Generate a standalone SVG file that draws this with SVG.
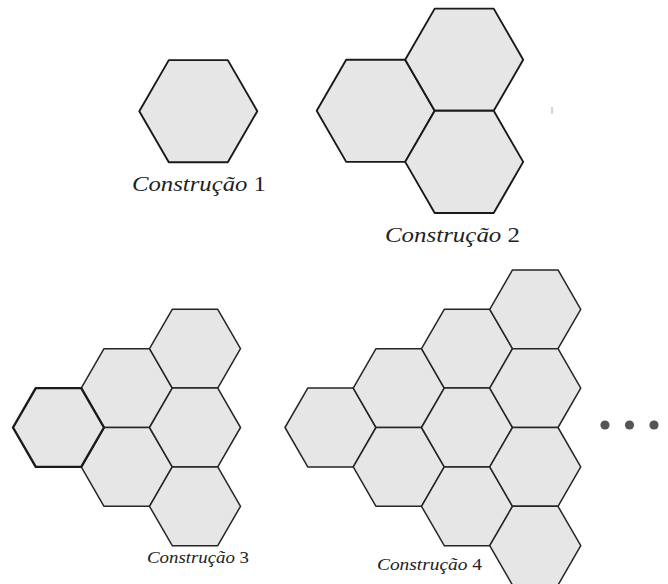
<svg xmlns="http://www.w3.org/2000/svg" xmlns:xlink="http://www.w3.org/1999/xlink" width="668" height="584" viewBox="0 0 668 584">
<style>
.hx{fill:#e6e6e6;stroke:#1a1a1a;stroke-width:1.9;stroke-linejoin:round}
.hs{fill:#e6e6e6;stroke:#262626;stroke-width:1.5;stroke-linejoin:round}
.lbl{font-style:italic;fill:#222}
.num{font-style:normal}
.dot{fill:#555}
</style>
<defs>
<polygon id="big" points="-59,0 -29.5,-51.1 29.5,-51.1 59,0 29.5,51.1 -29.5,51.1"/>
<polygon id="small" points="-45.5,0 -22.75,-39.4 22.75,-39.4 45.5,0 22.75,39.4 -22.75,39.4"/>
</defs>
<rect width="668" height="584" fill="#ffffff"/>
<g id="construcao1">
<use xlink:href="#big" class="hx" x="198.3" y="111.2"/>
<text class="lbl" font-family="'Liberation Serif', 'DejaVu Serif', serif" x="132" y="191" font-size="21" textLength="134" lengthAdjust="spacingAndGlyphs">Construção <tspan class="num">1</tspan></text>
</g>
<g id="construcao2">
<use xlink:href="#big" class="hx" x="375.7" y="110.8"/>
<use xlink:href="#big" class="hx" x="464.2" y="59.7"/>
<use xlink:href="#big" class="hx" x="464.2" y="161.9"/>
<text class="lbl" font-family="'Liberation Serif', 'DejaVu Serif', serif" x="385" y="241.5" font-size="21" textLength="135" lengthAdjust="spacingAndGlyphs">Construção <tspan class="num">2</tspan></text>
<line x1="552" y1="107" x2="552" y2="114" stroke="#aaa" stroke-width="1"/>
</g>
<g id="construcao3">
<use xlink:href="#small" class="hs" x="126.75" y="388.1"/>
<use xlink:href="#small" class="hs" x="126.75" y="466.9"/>
<use xlink:href="#small" class="hs" x="195" y="348.7"/>
<use xlink:href="#small" class="hs" x="195" y="427.5"/>
<use xlink:href="#small" class="hs" x="195" y="506.3"/>
<use xlink:href="#small" class="hs" x="58.5" y="427.5" style="stroke-width:2.4;stroke:#1a1a1a"/>
<text class="lbl" font-family="'Liberation Serif', 'DejaVu Serif', serif" x="147" y="563.3" font-size="16" textLength="102" lengthAdjust="spacingAndGlyphs">Construção <tspan class="num">3</tspan></text>
</g>
<g id="construcao4">
<use xlink:href="#small" class="hs" x="330.5" y="427.5"/>
<use xlink:href="#small" class="hs" x="398.75" y="388.1"/>
<use xlink:href="#small" class="hs" x="398.75" y="466.9"/>
<use xlink:href="#small" class="hs" x="467" y="348.7"/>
<use xlink:href="#small" class="hs" x="467" y="427.5"/>
<use xlink:href="#small" class="hs" x="467" y="506.3"/>
<use xlink:href="#small" class="hs" x="535.25" y="309.3"/>
<use xlink:href="#small" class="hs" x="535.25" y="388.1"/>
<use xlink:href="#small" class="hs" x="535.25" y="466.9"/>
<use xlink:href="#small" class="hs" x="535.25" y="545.7"/>
<text class="lbl" font-family="'Liberation Serif', 'DejaVu Serif', serif" x="377" y="570" font-size="16.5" textLength="105" lengthAdjust="spacingAndGlyphs">Construção <tspan class="num">4</tspan></text>
</g>
<g id="reticencias">
<circle class="dot" cx="605" cy="425" r="4.6"/>
<circle class="dot" cx="629.5" cy="425" r="4.6"/>
<circle class="dot" cx="654" cy="425" r="4.6"/>
</g>
</svg>
